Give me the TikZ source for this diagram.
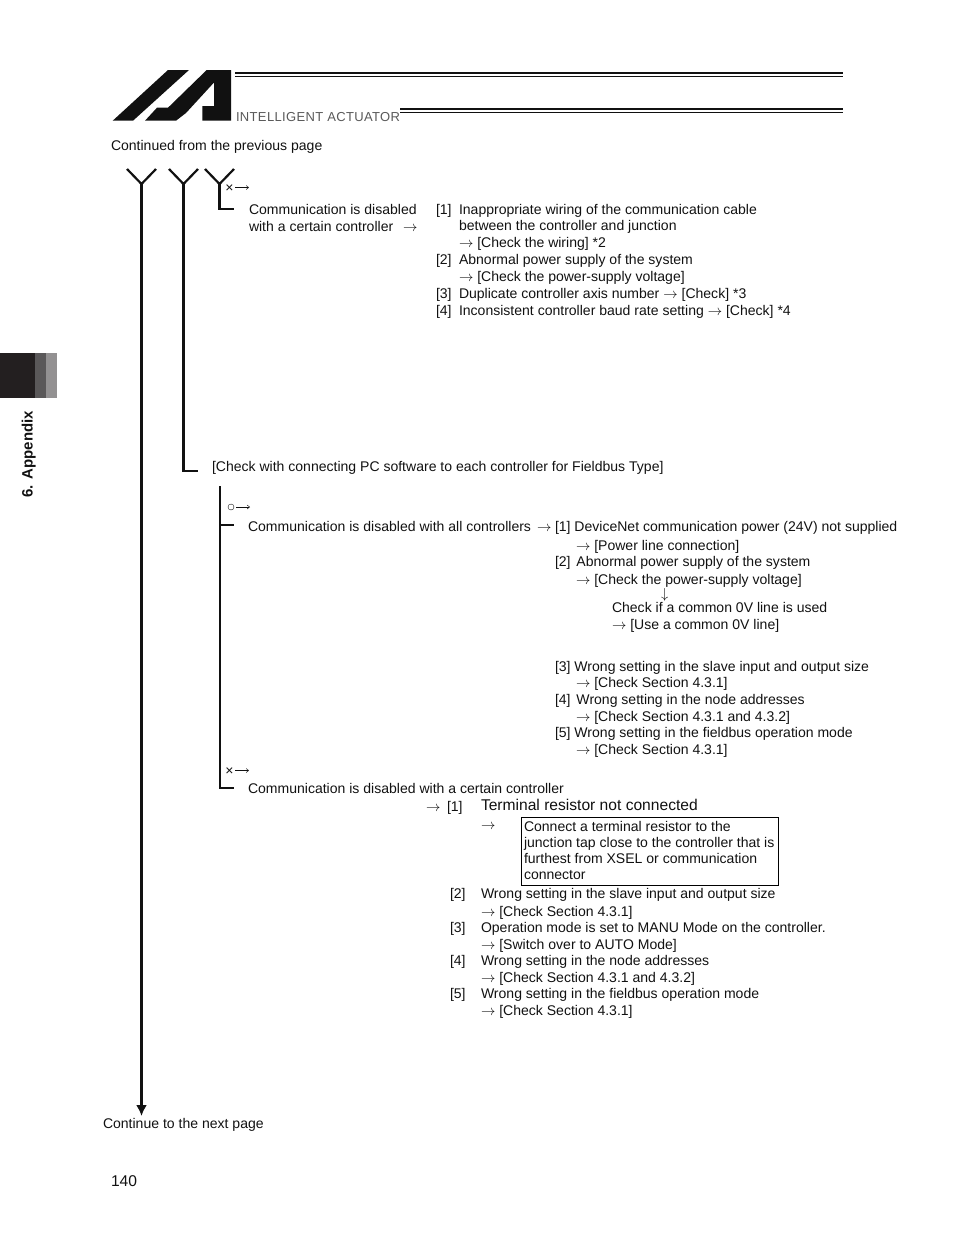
\documentclass[tikz,border=0pt]{standalone}
\usepackage{fontspec}
\setmainfont{Liberation Sans}
\usetikzlibrary{arrows.meta}
\definecolor{ink}{HTML}{111111}
\definecolor{tabA}{HTML}{231F20}
\definecolor{tabB}{HTML}{5A5859}
\definecolor{tabC}{HTML}{939192}
\tikzset{
 txt/.style={anchor=base west,inner sep=0pt,outer sep=0pt,font=\fontsize{14.03}{16}\selectfont,text=ink},
 bigtxt/.style={txt,font=\fontsize{15.6}{16}\selectfont},
 flow/.style={line width=2.2pt,draw=ink},
 thin arrow/.style={line width=0.45pt,draw=ink,-{Straight Barb[length=2.5pt,width=4pt]}},
}
\newcommand{\ar}{$\rightarrow$}
\begin{document}
\begin{tikzpicture}[x=1pt,y=-1pt]
\useasboundingbox (0,0) rectangle (954,1235);
% logo
\fill[ink] (112.7,120.7) -- (168,70) -- (189,70) -- (133,120.7) -- cycle;
\fill[ink] (145,120.7) -- (157,107.7) -- (168,107.7) -- (206.7,70) -- (231,70) -- (231,120.7) -- (202.3,120.7) -- (202.3,106) -- (214,106) -- (214,82.5) -- (186,113) -- (176,120.7) -- cycle;
\node[txt,text=black!65,font=\fontsize{13}{14}\selectfont\addfontfeature{LetterSpace=2.7}] (brand) at (236,121.7) {INTELLIGENT ACTUATOR};
\coordinate (ruleA) at (235,73); \coordinate (ruleB) at (843,73);
\draw[line width=2pt,ink] (ruleA) -- (ruleB);
\draw[line width=0.7pt,ink] (235,76.5) -- (843,76.5);
\draw[line width=2pt,ink] (400,109) -- (843,109);
\draw[line width=0.7pt,ink] (400,112.5) -- (843,112.5);
% tab
\fill[tabA] (0,353) rectangle (35,398);
\fill[tabB] (35,353) rectangle (46,398);
\fill[tabC] (46,353) rectangle (57,398);
\node[txt,rotate=90,font=\bfseries\fontsize{15}{16}\selectfont] (tab) at (32.5,497.5) {6. Appendix};
\node[txt] (cont) at (111,150) {Continued from the previous page};
% flow
\coordinate (a1) at (127,169); \coordinate (a2) at (156,169); \coordinate (a0) at (141.5,184); \coordinate (aend) at (141.5,1116);
\coordinate (b1) at (169,169); \coordinate (b2) at (198,169); \coordinate (b0) at (183.5,184);
\coordinate (b3) at (183.5,471); \coordinate (b4) at (198,471);
\coordinate (c1) at (205,169); \coordinate (c2) at (234,169); \coordinate (c0) at (219.5,184);
\coordinate (c3) at (219.5,209); \coordinate (c4) at (234,209);
\draw[flow,line join=miter] (a1) -- (a0) -- (a2);
\draw[flow,-{Latex[length=11pt,width=11pt]}] (a0) -- (aend);
\draw[flow] (b1) -- (b0) -- (b2);
\draw[flow] (b0) -- (b3) -- (b4);
\draw[flow] (c1) -- (c0) -- (c2);
\draw[flow] (c0) -- (c3) -- (c4);
\coordinate (d0) at (220,486); \coordinate (d1) at (220,788); \coordinate (d2) at (234,788);
\coordinate (e1) at (220,525); \coordinate (e2) at (234,525);
\draw[flow] (d0) -- (d1) -- (d2);
\draw[flow] (e1) -- (e2);
% symbols
\node[txt,font=\fontsize{14}{14}\selectfont] (x1) at (225.3,192) {×};
\coordinate (x1a) at (235,187.5); \coordinate (x1b) at (249,187.5);
\draw[thin arrow] (x1a) -- (x1b);
\draw[line width=0.4pt,ink] (231,507) circle (3pt);
\coordinate (o1a) at (236,507); \coordinate (o1b) at (250,507);
\draw[thin arrow] (o1a) -- (o1b);
\node[txt,font=\fontsize{14}{14}\selectfont] (x2) at (225.3,775) {×};
\coordinate (x2a) at (235,770.5); \coordinate (x2b) at (249,770.5);
\draw[thin arrow] (x2a) -- (x2b);
% top block
\node[txt] (t1) at (249,214) {Communication is disabled};
\node[txt] (t2) at (249,231) {with a certain controller};
\node[txt] (t2a) at (403,231) {\ar};
\node[txt] (r1) at (436,214) {[1]};
\node[txt] (r1a) at (459,214) {Inappropriate wiring of the communication cable};
\node[txt] (r1b) at (459,230) {between the controller and junction};
\node[txt] (r1c) at (459,247) {\ar\ [Check the wiring] *2};
\node[txt] (r2) at (436,264) {[2]};
\node[txt] (r2a) at (459,264) {Abnormal power supply of the system};
\node[txt] (r2b) at (459,281) {\ar\ [Check the power-supply voltage]};
\node[txt] (r3) at (436,298) {[3]};
\node[txt] (r3a) at (459,298) {Duplicate controller axis number \ar\ [Check] *3};
\node[txt] (r4) at (436,315) {[4]};
\node[txt] (r4a) at (459,315) {Inconsistent controller baud rate setting \ar\ [Check] *4};
\node[txt] (mid) at (212,471) {[Check with connecting PC software to each controller for Fieldbus Type]};
% middle block
\node[txt] (m0) at (248,531) {Communication is disabled with all controllers};
\node[txt] (m0a) at (537,531) {\ar};
\node[txt] (m1) at (555,531) {[1] DeviceNet communication power (24V) not supplied};
\node[txt] (m1b) at (576,550) {\ar\ [Power line connection]};
\node[txt] (m2) at (555,566) {[2]\hspace{2pt} Abnormal power supply of the system};
\node[txt] (m2b) at (576,584) {\ar\ [Check the power-supply voltage]};
\node[txt] (m2c) at (661,598) {$\downarrow$};
\node[txt] (m2d) at (612,612) {Check if a common 0V line is used};
\node[txt] (m2e) at (612,629) {\ar\ [Use a common 0V line]};
\node[txt] (m3) at (555,671) {[3] Wrong setting in the slave input and output size};
\node[txt] (m3b) at (576,687) {\ar\ [Check Section 4.3.1]};
\node[txt] (m4) at (555,704) {[4]\hspace{2pt} Wrong setting in the node addresses};
\node[txt] (m4b) at (576,721) {\ar\ [Check Section 4.3.1 and 4.3.2]};
\node[txt] (m5) at (555,737) {[5] Wrong setting in the fieldbus operation mode};
\node[txt] (m5b) at (576,754) {\ar\ [Check Section 4.3.1]};
% lower block
\node[txt] (l0) at (248,793) {Communication is disabled with a certain controller};
\node[txt] (l1) at (426,811) {\ar};
\node[txt] (l1n) at (447,811) {[1]};
\node[bigtxt] (l1a) at (481,810) {Terminal resistor not connected};
\node[txt] (l1b) at (481,829) {\ar};
\node[draw=black,line width=0.8pt,inner sep=0pt,outer sep=0pt,minimum width=257pt,minimum height=68pt,anchor=north west] (termbox) at (521,817.3) {};
\node[txt] (b1t) at (524,831.5) {Connect a terminal resistor to the};
\node[txt] (b2t) at (524,847) {junction tap close to the controller that is};
\node[txt] (b3t) at (524,863) {furthest from XSEL or communication};
\node[txt] (b4t) at (524,879) {connector};
\node[txt] (l2) at (450,898) {[2]};
\node[txt] (l2a) at (481,898) {Wrong setting in the slave input and output size};
\node[txt] (l2b) at (481,916) {\ar\ [Check Section 4.3.1]};
\node[txt] (l3) at (450,932) {[3]};
\node[txt] (l3a) at (481,932) {Operation mode is set to MANU Mode on the controller.};
\node[txt] (l3b) at (481,949) {\ar\ [Switch over to AUTO Mode]};
\node[txt] (l4) at (450,965) {[4]};
\node[txt] (l4a) at (481,965) {Wrong setting in the node addresses};
\node[txt] (l4b) at (481,982) {\ar\ [Check Section 4.3.1 and 4.3.2]};
\node[txt] (l5) at (450,998) {[5]};
\node[txt] (l5a) at (481,998) {Wrong setting in the fieldbus operation mode};
\node[txt] (l5b) at (481,1015) {\ar\ [Check Section 4.3.1]};
\node[txt] (next) at (103,1128) {Continue to the next page};
\node[bigtxt] (page) at (111,1186) {140};
\end{tikzpicture}
\end{document}
